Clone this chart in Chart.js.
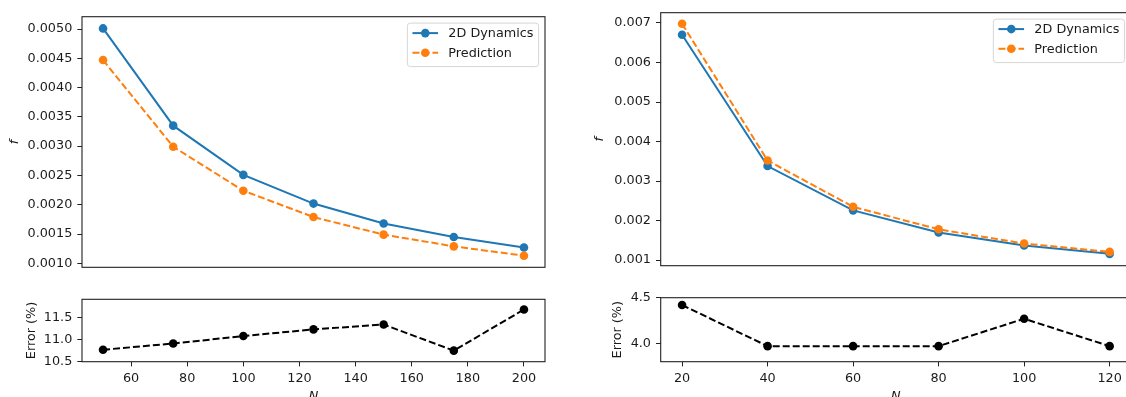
<!DOCTYPE html>
<html>
<head>
<meta charset="utf-8">
<script src="https://cdn.jsdelivr.net/npm/chart.js@4.4.0/dist/chart.umd.min.js"></script>
<style>
  html, body { margin: 0; padding: 0; background: #fff; overflow: hidden; width: 1126px; height: 397px; }
  canvas { position: absolute; }
</style>
</head>
<body>
<canvas id="leftTop" width="560" height="280" style="left:0;top:0"></canvas>
<canvas id="leftBottom" width="560" height="125" style="left:0;top:280px"></canvas>
<canvas id="rightTop" width="580" height="280" style="left:566px;top:0"></canvas>
<canvas id="rightBottom" width="580" height="125" style="left:566px;top:280px"></canvas>
<script>
// left figure
const nLeft = [50, 75, 100, 125, 150, 175, 200];
const fDynLeft = [0.00501, 0.00335, 0.00251, 0.00202, 0.00168, 0.00145, 0.00127];
const fPredLeft = [0.00447, 0.00299, 0.00224, 0.00179, 0.00149, 0.00129, 0.00113];
const errLeft = [10.77, 10.91, 11.08, 11.23, 11.34, 10.75, 11.68];

// right figure
const nRight = [20, 40, 60, 80, 100, 120];
const fDynRight = [0.00670, 0.00338, 0.00226, 0.00170, 0.00137, 0.00116];
const fPredRight = [0.00698, 0.00352, 0.00235, 0.00178, 0.00142, 0.00121];
const errRight = [4.42, 3.97, 3.97, 3.97, 4.27, 3.97];

// tick labels
const ticksLeftF = [0.0010, 0.0015, 0.0020, 0.0025, 0.0030, 0.0035, 0.0040, 0.0045, 0.0050];
const ticksLeftErr = [10.5, 11.0, 11.5];
const ticksLeftN = [60, 80, 100, 120, 140, 160, 180, 200];
const ticksRightF = [0.001, 0.002, 0.003, 0.004, 0.005, 0.006, 0.007];
const ticksRightErr = [4.0, 4.5];
const ticksRightN = [20, 40, 60, 80, 100, 120];

const FONT = 12.8;
const TEXT = "#1a1a1a";
Chart.defaults.font.family = "'DejaVu Sans', sans-serif";
Chart.defaults.font.size = FONT;
Chart.defaults.color = TEXT;
Chart.defaults.animation = false;

const xy = (xs, ys) => xs.map((x, i) => ({ x: x, y: ys[i] }));

// matplotlib-like box around the axes
const frameBox = {
  id: "frameBox",
  afterDatasetsDraw(chart) {
    const a = chart.chartArea;
    const ctx = chart.ctx;
    ctx.save();
    ctx.strokeStyle = "#222";
    ctx.lineWidth = 1.1;
    ctx.setLineDash([]);
    ctx.strokeRect(a.left, a.top, a.right - a.left, a.bottom - a.top);
    ctx.restore();
  },
};

// legend box in the upper right corner, drawn from the datasets
const boxLegend = {
  id: "boxLegend",
  afterDraw(chart, args, opts) {
    if (!opts.show) return;
    const ctx = chart.ctx;
    const a = chart.chartArea;
    const em = FONT;
    const sets = chart.data.datasets;
    ctx.save();
    ctx.font = FONT + "px 'DejaVu Sans'";
    const textW = Math.max(...sets.map((d) => ctx.measureText(d.label).width));
    const pad = 0.4 * em, handle = 2 * em, gap = 0.8 * em;
    const w = pad * 2 + handle + gap + textW;
    const h = 43.5;
    const x = a.right - 0.5 * em - w;
    const y = a.top + 0.5 * em;
    ctx.beginPath();
    ctx.roundRect(x, y, w, h, 3);
    ctx.fillStyle = "rgba(255,255,255,0.8)";
    ctx.fill();
    ctx.strokeStyle = "#d6d6d6";
    ctx.lineWidth = 1;
    ctx.stroke();
    sets.forEach((d, i) => {
      const cy = y + 10 + i * 19.7;
      ctx.beginPath();
      ctx.setLineDash(d.borderDash || []);
      ctx.strokeStyle = d.borderColor;
      ctx.lineWidth = d.borderWidth;
      ctx.moveTo(x + pad, cy);
      ctx.lineTo(x + pad + handle, cy);
      ctx.stroke();
      ctx.setLineDash([]);
      ctx.beginPath();
      ctx.arc(x + pad + handle / 2, cy, d.pointRadius, 0, Math.PI * 2);
      ctx.fillStyle = d.pointBackgroundColor;
      ctx.fill();
      ctx.fillStyle = TEXT;
      ctx.textBaseline = "middle";
      ctx.textAlign = "left";
      ctx.fillText(d.label, x + pad + handle + gap, cy + 1);
    });
    ctx.restore();
  },
};

function series(label, data, color, dashed, order) {
  return {
    label: label,
    data: data,
    borderColor: color,
    backgroundColor: color,
    pointBackgroundColor: color,
    pointBorderColor: color,
    borderWidth: 2,
    borderDash: dashed ? [7, 3] : [],
    pointRadius: 4.3,
    pointBorderWidth: 0,
    tension: 0,
    fill: false,
    order: order,
  };
}

function yAxis(opts) {
  return {
    type: "linear",
    min: opts.min,
    max: opts.max,
    afterBuildTicks: (s) => { s.ticks = opts.ticks.map((v) => ({ value: v })); },
    afterFit: (s) => { s.width = opts.width; },
    ticks: { padding: 5, color: TEXT, callback: (v) => v.toFixed(opts.digits) },
    grid: { drawOnChartArea: false, drawTicks: true, tickLength: 4.7, color: "#222", lineWidth: 1 },
    border: { display: false },
    title: {
      display: true,
      text: opts.title,
      color: TEXT,
      font: { size: FONT, style: opts.italic ? "italic" : "normal" },
      padding: { top: opts.titlePad, bottom: 0 },
    },
  };
}

function xAxis(opts) {
  return {
    type: "linear",
    display: opts.show,
    min: opts.min,
    max: opts.max,
    afterBuildTicks: (s) => { s.ticks = opts.ticks.map((v) => ({ value: v })); },
    afterFit: (s) => { s.height = opts.height; },
    ticks: { padding: 5, color: TEXT, maxRotation: 0, callback: (v) => String(v) },
    grid: { drawOnChartArea: false, drawTicks: true, tickLength: 4.7, color: "#222", lineWidth: 1 },
    border: { display: false },
    title: {
      display: true,
      text: "N",
      color: TEXT,
      font: { size: FONT, style: "italic" },
      padding: { top: 0, bottom: 1 },
    },
  };
}

function makeChart(id, datasets, x, y, padding, legend) {
  return new Chart(document.getElementById(id).getContext("2d"), {
    type: "line",
    data: { datasets: datasets },
    options: {
      responsive: false,
      layout: { padding: padding },
      scales: { x: xAxis(x), y: yAxis(y) },
      plugins: {
        legend: { display: false },
        tooltip: { enabled: false },
        boxLegend: { show: legend },
      },
    },
    plugins: [frameBox, boxLegend],
  });
}

makeChart(
  "leftTop",
  [
    series("2D Dynamics", xy(nLeft, fDynLeft), "#1f77b4", false, 2),
    series("Prediction", xy(nLeft, fPredLeft), "#ff7f0e", true, 1),
  ],
  { show: false, min: 42.5, max: 207.5, ticks: ticksLeftN, height: 0 },
  { min: 0.000932, max: 0.00521, ticks: ticksLeftF, digits: 4, width: 82, title: "f", italic: true, titlePad: 6.6 },
  { left: 0, top: 16.7, right: 15, bottom: 12.3 },
  true
);

makeChart(
  "leftBottom",
  [series("Error", xy(nLeft, errLeft), "#000000", true, 1)],
  { show: true, min: 42.5, max: 207.5, ticks: ticksLeftN, height: 43.3 },
  { min: 10.5, max: 11.91, ticks: ticksLeftErr, digits: 1, width: 82, title: "Error (%)", italic: false, titlePad: 23.7 },
  { left: 0, top: 19.3, right: 15, bottom: 0 },
  false
);

makeChart(
  "rightTop",
  [
    series("2D Dynamics", xy(nRight, fDynRight), "#1f77b4", false, 2),
    series("Prediction", xy(nRight, fPredRight), "#ff7f0e", true, 1),
  ],
  { show: false, min: 15, max: 125, ticks: ticksRightN, height: 0 },
  { min: 0.00086, max: 0.00726, ticks: ticksRightF, digits: 3, width: 94.7, title: "f", italic: true, titlePad: 26.3 },
  { left: 0, top: 11.7, right: 15, bottom: 14.3 },
  true
);

makeChart(
  "rightBottom",
  [series("Error", xy(nRight, errRight), "#000000", true, 1)],
  { show: true, min: 15, max: 125, ticks: ticksRightN, height: 43.3 },
  { min: 3.8, max: 4.5, ticks: ticksRightErr, digits: 1, width: 94.7, title: "Error (%)", italic: false, titlePad: 44.3 },
  { left: 0, top: 17.7, right: 15, bottom: 0 },
  false
);
</script>
</body>
</html>
